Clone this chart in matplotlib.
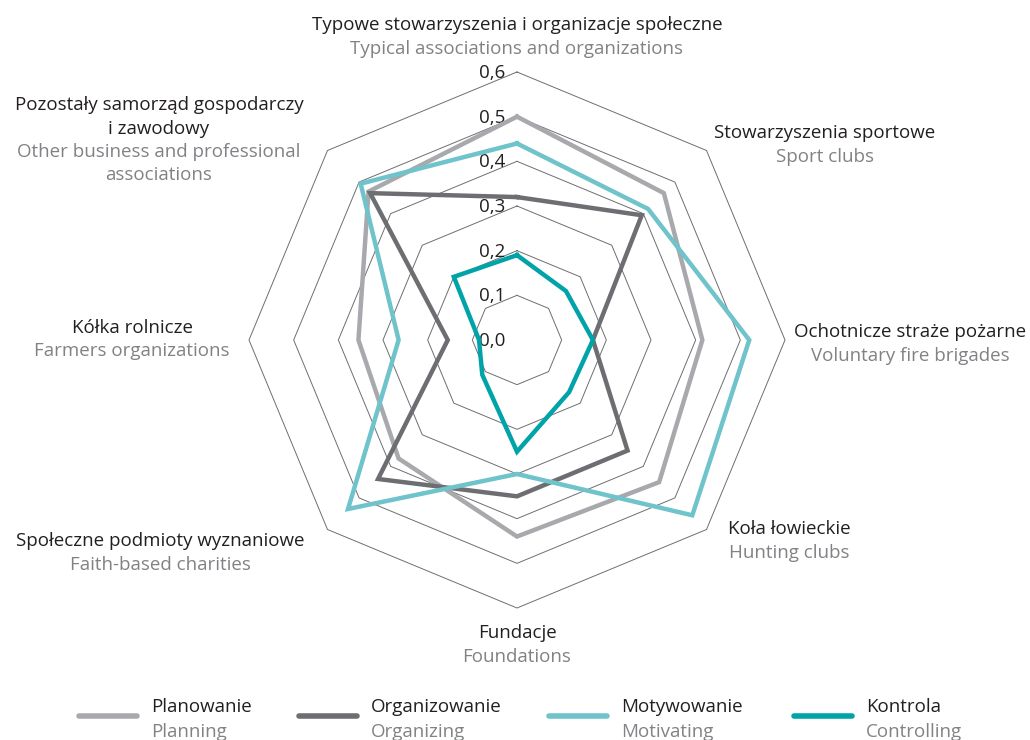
import numpy as np
import matplotlib
matplotlib.use("Agg")
import matplotlib.pyplot as plt
from matplotlib.lines import Line2D

plt.rcParams['font.family'] = ['Open Sans', 'DejaVu Sans']

# categories clockwise from the top (Polish, English)
cats_pl = [["Typowe stowarzyszenia i organizacje społeczne"],
           ["Stowarzyszenia sportowe"],
           ["Ochotnicze straże pożarne"],
           ["Koła łowieckie"],
           ["Fundacje"],
           ["Społeczne podmioty wyznaniowe"],
           ["Kółka rolnicze"],
           ["Pozostały samorząd gospodarczy", "i zawodowy"]]
cats_en = [["Typical associations and organizations"],
           ["Sport clubs"],
           ["Voluntary fire brigades"],
           ["Hunting clubs"],
           ["Foundations"],
           ["Faith-based charities"],
           ["Farmers organizations"],
           ["Other business and professional", "associations"]]

planowanie = [0.50, 0.465, 0.415, 0.45, 0.44, 0.375, 0.355, 0.47]
organizowanie = [0.32, 0.395, 0.17, 0.35, 0.35, 0.44, 0.155, 0.465]
motywowanie = [0.44, 0.415, 0.52, 0.555, 0.30, 0.535, 0.265, 0.495]
kontrola = [0.19, 0.155, 0.17, 0.165, 0.25, 0.11, 0.085, 0.20]

series_pl = ["Planowanie", "Organizowanie", "Motywowanie", "Kontrola"]
series_en = ["Planning", "Organizing", "Motivating", "Controlling"]
colors = ["#a7a9ac", "#6d6e71", "#6fc3ca", "#00a3a8"]

levels = [0.1, 0.2, 0.3, 0.4, 0.5, 0.6]
tick_labels = ["0,0", "0,1", "0,2", "0,3", "0,4", "0,5", "0,6"]

BLACK = "#231f20"
GRAY = "#808285"
W, H = 1030, 740
FS = 13.5

fig = plt.figure(figsize=(10.3, 7.4), dpi=100)

# polar axes centred at (517, 340) px, r=0.6 -> 268 px
cx, cy, R = 517, 340, 268
ax = fig.add_axes([(cx - R) / W, (H - cy - R) / H, 2 * R / W, 2 * R / H],
                  projection='polar')
ax.set_theta_offset(np.pi / 2)
ax.set_theta_direction(-1)
ax.set_ylim(0, 0.6)
ax.axis('off')

n = len(cats_pl)
ang = np.linspace(0, 2 * np.pi, n, endpoint=False)
ang_c = np.append(ang, ang[0])

for v in levels:
    ax.plot(ang_c, [v] * (n + 1), color="#6d6e71", lw=0.7, clip_on=False, zorder=1)

for i, t in enumerate(tick_labels):
    ax.annotate(t, xy=(0, i * 0.1), xytext=(-12, -6), textcoords='offset pixels',
                ha='right', va='baseline', fontsize=FS, color=BLACK, zorder=2)

data = [planowanie, organizowanie, motywowanie, kontrola]
for vals, c in zip(data, colors):
    ax.plot(ang_c, vals + vals[:1], color=c, lw=3.2, clip_on=False,
            solid_joinstyle='miter', zorder=3)

# category labels: centre x and first baseline, in px from the top
lab_x = [517, 825, 910, 789, 517, 160, 132, 159]
lab_base = [30, 138, 337, 534, 638, 546, 333, 110]
line_h = 23.5
for x, y0, pl, en in zip(lab_x, lab_base, cats_pl, cats_en):
    lines = [(s, BLACK) for s in pl] + [(s, GRAY) for s in en]
    for k, (s, c) in enumerate(lines):
        fig.text(x / W, 1 - (y0 + k * line_h) / H, s, ha='center', va='baseline',
                 fontsize=FS, color=c)

# legend
leg_x = [79, 299, 549, 794]
for x, pl, en, c in zip(leg_x, series_pl, series_en, colors):
    fig.add_artist(Line2D([x / W, (x + 58) / W], [1 - 716 / H, 1 - 716 / H],
                          color=c, lw=4, solid_capstyle='round'))
    fig.text((x + 72) / W, 1 - 712 / H, pl, ha='left', va='baseline',
             fontsize=FS, color=BLACK)
    fig.text((x + 72) / W, 1 - 737 / H, en, ha='left', va='baseline',
             fontsize=FS, color=GRAY)

fig.savefig("out.png", dpi=100)
